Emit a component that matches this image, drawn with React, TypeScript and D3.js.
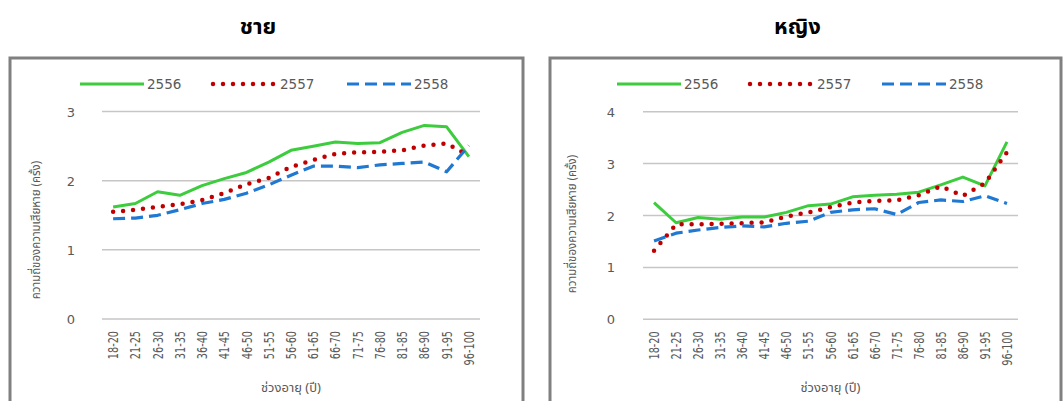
import React from "react";
import * as d3 from "d3";

// Age groups (years)
const ageGroups = [
  "18-20", "21-25", "26-30", "31-35", "36-40", "41-45", "46-50", "51-55", "56-60",
  "61-65", "66-70", "71-75", "76-80", "81-85", "86-90", "91-95", "96-100",
];

const years = ["2556", "2557", "2558"];

// Male: damage frequency per policy by age group
const male2556 = [1.62, 1.67, 1.84, 1.79, 1.93, 2.03, 2.12, 2.27, 2.44, 2.5, 2.56, 2.54, 2.55, 2.7, 2.8, 2.78, 2.35];
const male2557 = [1.55, 1.58, 1.62, 1.66, 1.72, 1.82, 1.95, 2.04, 2.2, 2.3, 2.39, 2.41, 2.42, 2.44, 2.51, 2.54, 2.36];
const male2558 = [1.45, 1.46, 1.5, 1.58, 1.67, 1.73, 1.82, 1.94, 2.08, 2.21, 2.21, 2.19, 2.23, 2.25, 2.27, 2.13, 2.51];

// Female: damage frequency per policy by age group
const female2556 = [2.25, 1.86, 1.96, 1.93, 1.97, 1.97, 2.06, 2.19, 2.22, 2.36, 2.39, 2.41, 2.45, 2.59, 2.74, 2.57, 3.42];
const female2557 = [1.32, 1.83, 1.83, 1.84, 1.85, 1.87, 1.98, 2.06, 2.16, 2.25, 2.28, 2.29, 2.39, 2.56, 2.38, 2.62, 3.22];
const female2558 = [1.51, 1.66, 1.72, 1.77, 1.8, 1.78, 1.85, 1.89, 2.06, 2.11, 2.13, 2.02, 2.25, 2.3, 2.27, 2.38, 2.23];

const maleTicks = [0, 1, 2, 3];
const femaleTicks = [0, 1, 2, 3, 4];

const yTitle = "ความถี่ของความเสียหาย (ครั้ง)";
const xTitle = "ช่วงอายุ (ปี)";

type LineStyle = { color: string; width: number; dash: string; cap: "round" | "butt" };

const styles: LineStyle[] = [
  { color: "#3dcc3d", width: 3, dash: "", cap: "butt" },
  { color: "#c00000", width: 4.5, dash: "0 10", cap: "round" },
  { color: "#1f78d1", width: 3.2, dash: "12 6", cap: "butt" },
];

const thaiFont = "Tahoma, 'Noto Sans Thai', 'Leelawadee UI', sans-serif";
const axisFont = "'Liberation Sans Narrow', 'DejaVu Sans Condensed', Arial, sans-serif";
const numFont = "Verdana, 'DejaVu Sans', sans-serif";

type PanelProps = {
  title: string;
  series: number[][];
  ticks: number[];
  frameX: number;
  frameW: number;
  plotX0: number;
  plotX1: number;
  yMax: number;
  yMaxPix: number;
  yZeroPix: number;
  tickX: number;
  yTitleX: number;
  yTitleY: number;
  legendX: number[];
};

function Panel(p: PanelProps) {
  const x = d3.scalePoint<string>().domain(ageGroups).range([p.plotX0, p.plotX1]).padding(0.5);
  const y = d3.scaleLinear().domain([0, p.yMax]).range([p.yZeroPix, p.yMaxPix]);
  const line = d3
    .line<number>()
    .x((_, i) => x(ageGroups[i]) as number)
    .y((v) => y(v));
  const legendY = 84;
  return (
    <g>
      <text x={(p.plotX0 + p.plotX1) / 2 - 33} y={34} textAnchor="middle" fontFamily={thaiFont} fontWeight="bold" fontSize={22} fill="#000">
        {p.title}
      </text>
      <rect x={p.frameX} y={58} width={p.frameW} height={360} fill="#fff" stroke="#808080" strokeWidth={3} />
      {/* legend */}
      {years.map((yr, k) => {
        const s = styles[k];
        const lx = p.legendX[k];
        return (
          <g key={yr}>
            <line x1={lx} x2={lx + 64} y1={legendY} y2={legendY} stroke={s.color} strokeWidth={s.width} strokeDasharray={s.dash} strokeLinecap={s.cap} />
            <text x={lx + 67} y={legendY + 5} fontFamily={numFont} fontSize={13.5} fill="#595959">
              {yr}
            </text>
          </g>
        );
      })}
      {/* gridlines and y ticks */}
      {p.ticks.map((t) => (
        <g key={t}>
          <line x1={p.plotX0} x2={p.plotX1} y1={y(t)} y2={y(t)} stroke="#c6c6c6" strokeWidth={1.5} />
          <text x={p.tickX} y={y(t) + 5} textAnchor="middle" fontFamily={numFont} fontSize={13} fill="#595959">
            {t}
          </text>
        </g>
      ))}
      {/* x tick labels */}
      {ageGroups.map((g) => (
        <text
          key={g}
          transform={`translate(${(x(g) as number) + 5},${y(0) + 12}) rotate(-90) scale(0.8,1)`}
          textAnchor="end"
          fontFamily={axisFont}
          fontSize={13.5}
          fill="#595959"
        >
          {g}
        </text>
      ))}
      <text x={(p.plotX0 + p.plotX1) / 2} y={392} textAnchor="middle" fontFamily={thaiFont} fontSize={13} fill="#595959">
        {xTitle}
      </text>
      <text
        transform={`translate(${p.yTitleX},${p.yTitleY}) rotate(-90) scale(0.92,1)`}
        textAnchor="middle"
        fontFamily={thaiFont}
        fontSize={12.5}
        fill="#595959"
      >
        {yTitle}
      </text>
      {/* series lines */}
      {p.series.map((vals, k) => {
        const s = styles[k];
        return (
          <path
            key={k}
            d={line(vals) ?? ""}
            fill="none"
            stroke={s.color}
            strokeWidth={s.width}
            strokeDasharray={s.dash}
            strokeLinecap={s.cap}
            strokeLinejoin="round"
          />
        );
      })}
    </g>
  );
}

export default function App() {
  return (
    <svg width={1063} height={401} style={{ position: "absolute", left: 0, top: 0, background: "#fff" }}>
      <Panel
        title="ชาย"
        series={[male2556, male2557, male2558]}
        ticks={maleTicks}
        frameX={10}
        frameW={513}
        plotX0={102}
        plotX1={480}
        yMax={3}
        yMaxPix={111.6}
        yZeroPix={319}
        tickX={71}
        yTitleX={40}
        yTitleY={230}
        legendX={[80, 213, 347]}
      />
      <Panel
        title="หญิง"
        series={[female2556, female2557, female2558]}
        ticks={femaleTicks}
        frameX={550}
        frameW={511}
        plotX0={643}
        plotX1={1018}
        yMax={4}
        yMaxPix={111.7}
        yZeroPix={319.3}
        tickX={611}
        yTitleX={576}
        yTitleY={224}
        legendX={[617, 750, 882]}
      />
    </svg>
  );
}
